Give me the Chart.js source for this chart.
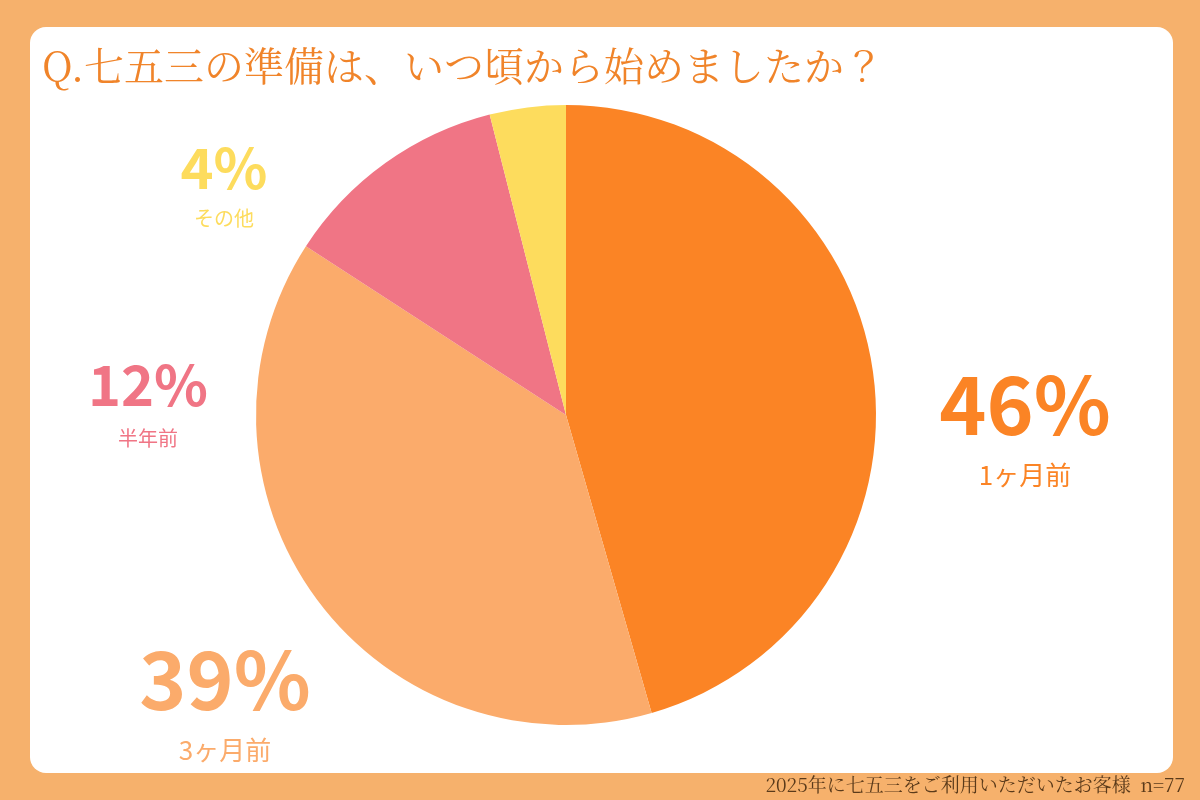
<!DOCTYPE html>
<html><head><meta charset="utf-8">
<script src="https://cdn.jsdelivr.net/npm/chart.js@4"></script>
<style>html,body{margin:0;padding:0;background:#f6b16c}#wrap{width:1200px;height:800px}</style>
</head><body><div id="wrap"><canvas id="c" width="1200" height="800"></canvas></div>
<script>
const categories = ['1ヶ月前', '3ヶ月前', '半年前', 'その他'];
const values = [46, 39, 12, 4];
const colors = ['#fb8425', '#fbab6b', '#f07585', '#fddc5d'];
const labelPos = [[1025, 405, 475, 80], [225, 680, 750, 80], [148, 385, 438, 56], [224, 168, 218, 56]];

const serif = '"Noto Serif CJK JP","Noto Sans CJK JP",serif';
const sans = '"Noto Sans CJK JP","Noto Sans",sans-serif';

const deco = {
  id: 'deco',
  beforeDraw(chart) {
    const ctx = chart.ctx;
    ctx.save();
    ctx.fillStyle = '#f6b16c';
    ctx.fillRect(0, 0, 1200, 800);
    ctx.fillStyle = '#ffffff';
    ctx.beginPath();
    ctx.roundRect(30, 27, 1143, 746, 16);
    ctx.fill();
    ctx.fillStyle = '#f0842a';
    ctx.font = '40px ' + serif;
    ctx.textAlign = 'left';
    ctx.textBaseline = 'middle';
    ctx.fillText('Q.七五三の準備は、いつ頃から始めましたか？', 42, 66);
    ctx.fillStyle = '#5a3a1a';
    ctx.font = '19px ' + serif;
    ctx.textAlign = 'right';
    ctx.fillText('2025年に七五三をご利用いただいたお客様  n=77', 1185, 785);
    ctx.restore();
  },
  afterDraw(chart) {
    const ctx = chart.ctx;
    ctx.save();
    ctx.textAlign = 'center';
    ctx.textBaseline = 'middle';
    values.forEach((v, i) => {
      const [x, y, y2, size] = labelPos[i];
      ctx.fillStyle = colors[i];
      ctx.font = 'bold ' + size + 'px ' + sans;
      ctx.fillText(v + '%', x, y);
      ctx.font = (size > 60 ? 26 : 20) + 'px ' + sans;
      ctx.fillText(categories[i], x, y2);
    });
    ctx.restore();
  }
};

new Chart(document.getElementById('c'), {
  type: 'pie',
  data: { labels: categories, datasets: [{ data: values, backgroundColor: colors, borderWidth: 0 }] },
  options: {
    responsive: false, animation: false,
    layout: { padding: { left: 256, right: 324, top: 105, bottom: 75 } },
    plugins: { legend: { display: false }, tooltip: { enabled: false } }
  },
  plugins: [deco]
});
</script></body></html>
